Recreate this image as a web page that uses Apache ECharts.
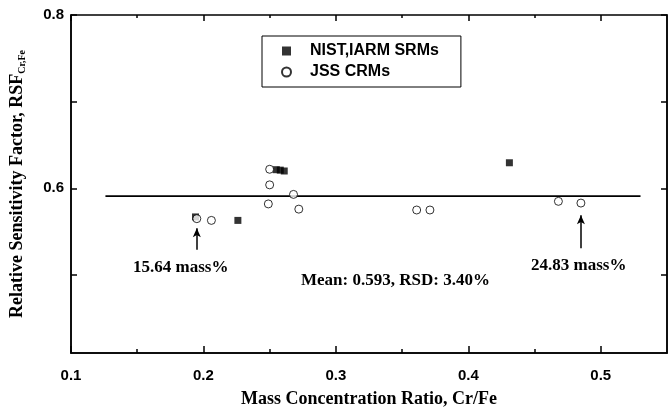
<!DOCTYPE html>
<html>
<head>
<meta charset="utf-8">
<title>RSF Cr/Fe</title>
<script src="https://cdn.jsdelivr.net/npm/echarts@6/dist/echarts.min.js"></script>
</head>
<body style="margin:0">
<div id="main" style="width:669px;height:414px;"></div>
<script type="text/javascript">
// NIST, IARM SRMs (filled squares)
var nistX = [0.194, 0.226, 0.255, 0.258, 0.261, 0.431];
var nistY = [0.567, 0.563, 0.6215, 0.621, 0.620, 0.6295];
// JSS CRMs (open circles)
var jssX = [0.195, 0.206, 0.249, 0.250, 0.250, 0.268, 0.272, 0.361, 0.371, 0.468, 0.485];
var jssY = [0.565, 0.563, 0.582, 0.604, 0.622, 0.593, 0.576, 0.575, 0.575, 0.585, 0.583];
// mean line
var meanX = [0.126, 0.530];
var meanY = 0.591;
// arrows: x, tail y, head y
var arrows = [[0.195, 0.529, 0.554], [0.485, 0.531, 0.569]];
var xLabels = [0.1, 0.2, 0.3, 0.4, 0.5];
var xMinor = [0.15, 0.25, 0.35, 0.45];
var yLabels = [0.6, 0.8];
var yTicks = [0.5, 0.6, 0.7, 0.8];

var myChart = echarts.init(document.getElementById('main'));

function pairs(xs, ys) {
	var out = [];
	for (var i = 0; i < xs.length; i++) out.push([xs[i], ys[i]]);
	return out;
}

var tickFont = { fontFamily: 'Liberation Sans', fontWeight: 'bold', fontSize: 15, color: '#000' };
var serif = 'Liberation Serif';
function blackLine() { return { show: true, onZero: false, lineStyle: { color: '#000', width: 1.5 } }; }
function tickStyle() { return { color: '#000', width: 1.5 }; }

// extra x axis that only draws ticks
function tickAxis(pos, values, len) {
	return {
		type: 'value', min: 0.1, max: 0.55, position: pos,
		axisLine: { show: false, onZero: false },
		axisTick: { show: true, inside: true, length: len, customValues: values, lineStyle: tickStyle() },
		axisLabel: { show: false },
		splitLine: { show: false }
	};
}

option = {
	animation: false,
	grid: { left: 69, right: 2, top: 15, bottom: 61, show: true, borderColor: '#000', borderWidth: 1.5, backgroundColor: 'transparent' },
	legend: {
		left: 262, top: 36,
		orient: 'vertical',
		itemWidth: 9, itemHeight: 9, itemGap: 5,
		padding: [7, 22, 7, 19],
		borderColor: '#000', borderWidth: 1,
		textStyle: { fontFamily: 'Liberation Sans', fontWeight: 'bold', fontSize: 16, color: '#000', padding: [0, 0, 0, 14] },
		data: [{ name: 'NIST,IARM SRMs', icon: 'rect' }, { name: 'JSS CRMs', icon: 'circle' }]
	},
	xAxis: [{
		type: 'value', min: 0.1, max: 0.55,
		name: 'Mass Concentration Ratio, Cr/Fe',
		nameLocation: 'middle', nameGap: 37,
		nameTextStyle: { fontFamily: serif, fontWeight: 'bold', fontSize: 18, color: '#000' },
		axisLine: blackLine(),
		axisTick: { show: true, inside: true, length: 7, customValues: xLabels, lineStyle: tickStyle() },
		axisLabel: Object.assign({ margin: 15, customValues: xLabels, formatter: function (v) { return v.toFixed(1); } }, tickFont),
		splitLine: { show: false }
	},
		tickAxis('bottom', xMinor, 4),
		tickAxis('top', xLabels, 6),
		tickAxis('top', xMinor, 3)
	],
	yAxis: [{
		type: 'value', min: 0.41, max: 0.8,
		name: '{a|Relative Sensitivity Factor, RSF}{b|Cr,Fe}',
		nameLocation: 'middle', nameGap: 44, nameRotate: 90,
		nameTextStyle: {
			rich: {
				a: { fontFamily: serif, fontWeight: 'bold', fontSize: 18, color: '#000' },
				b: { fontFamily: serif, fontWeight: 'bold', fontSize: 10, color: '#000', padding: [10, 0, 0, 0] }
			}
		},
		axisLine: blackLine(),
		axisTick: { show: true, inside: true, length: 6, customValues: yTicks, lineStyle: tickStyle() },
		axisLabel: Object.assign({ margin: 7, customValues: yLabels, formatter: function (v) { return v.toFixed(1); } }, tickFont),
		splitLine: { show: false }
	}, {
		type: 'value', min: 0.41, max: 0.8, position: 'right',
		axisLine: blackLine(),
		axisTick: { show: true, inside: true, length: 6, customValues: yTicks, lineStyle: tickStyle() },
		axisLabel: { show: false },
		splitLine: { show: false }
	}],
	series: [{
		name: 'mean',
		type: 'line',
		showSymbol: false,
		lineStyle: { color: '#000', width: 1.6 },
		data: [[meanX[0], meanY], [meanX[1], meanY]],
		markLine: {
			silent: true,
			symbol: ['none', 'arrow'],
			symbolSize: [6, 9],
			label: { show: false },
			lineStyle: { color: '#000', type: 'solid', width: 1.5 },
			data: arrows.map(function (a) {
				return [{ coord: [a[0], a[1]] }, { coord: [a[0], a[2]] }];
			})
		}
	}, {
		name: 'NIST,IARM SRMs',
		type: 'scatter',
		symbol: 'rect',
		symbolSize: 7,
		itemStyle: { color: '#000' },
		data: pairs(nistX, nistY),
		z: 3
	}, {
		name: 'JSS CRMs',
		type: 'scatter',
		symbol: 'circle',
		symbolSize: 8,
		itemStyle: { color: '#fff', borderColor: '#000', borderWidth: 1 },
		data: pairs(jssX, jssY),
		z: 4
	}],
	graphic: [
		{ type: 'text', left: 133, top: 259, style: { text: '15.64 mass%', font: 'bold 17px "Liberation Serif"', fill: '#000' } },
		{ type: 'text', left: 531, top: 257, style: { text: '24.83 mass%', font: 'bold 17px "Liberation Serif"', fill: '#000' } },
		{ type: 'text', left: 301, top: 272, style: { text: 'Mean: 0.593, RSD: 3.40%', font: 'bold 17px "Liberation Serif"', fill: '#000' } }
	]
};

myChart.setOption(option);
</script>
</body>
</html>
